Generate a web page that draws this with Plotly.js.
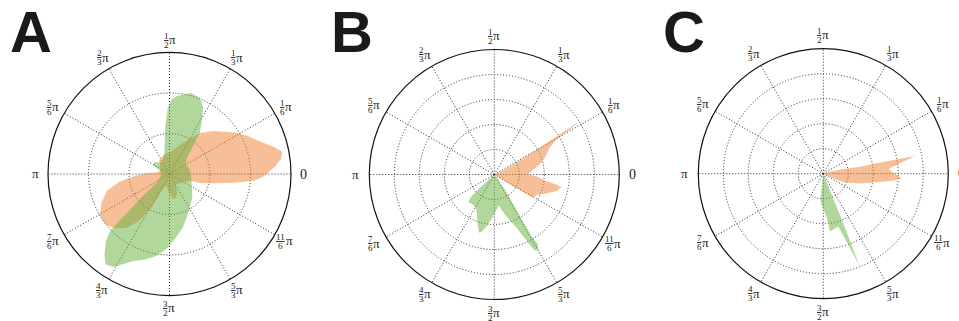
<!DOCTYPE html>
<html>
<head>
<meta charset="utf-8">
<script src="https://cdn.plot.ly/plotly-3.0.1.min.js"></script>
<style>
html,body{margin:0;padding:0;background:#fff;}
#chart{width:959px;height:321px;}
</style>
</head>
<body>
<div id="chart"></div>
<script>
// ---- tick labels (angles in degrees) ----
const tickAngles = [0, 30, 60, 90, 120, 150, 180, 210, 240, 270, 300, 330];
const tickNumerators = ['', '1', '1', '1', '2', '5', '', '7', '4', '3', '5', '11'];
const tickDenominators = ['', '6', '3', '2', '3', '6', '', '6', '3', '2', '3', '6'];
const tickPlain = ['0', '', '', '', '', '', 'π', '', '', '', '', ''];
const panelLetters = ['A', 'B', 'C'];
const radialMax = [3, 5, 5];

// ---- Panel A ----
const aOrangeTheta = [0, 4.5, 7.8, 11, 14.5, 19.4, 26.2, 32.9, 44.3, 53.6, 66.6, 85.6, 110, 127, 140, 160, 172, 178, 183, 189, 195, 203, 211, 218, 224, 231, 237, 242, 246, 255, 268, 278, 285, 292, 300, 320, 335, 341.6, 343.3, 349, 352.9, 355.4, 358];
const aOrangeR = [2.4, 2.63, 2.78, 2.84, 2.67, 2.39, 2.14, 1.89, 1.52, 1.26, 0.84, 0.56, 0.48, 0.42, 0.3, 0.25, 0.3, 0.6, 0.85, 1.26, 1.6, 1.83, 2.0, 2.02, 1.92, 1.72, 1.39, 0.9, 0.41, 0.3, 0.45, 0.62, 0.62, 0.5, 0.3, 0.35, 0.45, 0.53, 0.78, 1.19, 1.68, 2.09, 2.29];
const aGreenTheta = [0, 15, 28, 42, 49, 53.6, 58.5, 63, 68, 75, 80, 85, 88.7, 91.5, 94.7, 103, 120, 135, 142, 152, 160, 180, 200, 215, 219, 222, 223.8, 226.5, 231, 234.7, 239, 247, 254.5, 260.7, 268.7, 276, 284, 295, 315, 340];
const aGreenR = [0.52, 0.5, 0.47, 0.56, 0.83, 1.26, 1.52, 1.83, 2.02, 2.07, 2.0, 1.92, 1.83, 1.63, 1.21, 0.56, 0.35, 0.4, 0.48, 0.45, 0.25, 0.2, 0.25, 0.4, 0.8, 1.3, 2.02, 2.28, 2.55, 2.74, 2.68, 2.34, 2.19, 2.05, 1.82, 1.57, 1.36, 1.08, 0.8, 0.58];

// ---- Panel B ----
const bOrangeTheta = [0, 24, 27.8, 30.4, 32.1, 30.8, 29.4, 25.7, 18.3, 12.4, 7.3, 0, -2.3, -7.3, -9.1, -10.7, -15, -21, -26, -31, -31.8, 0];
const bOrangeR = [0, 0.39, 1.0, 2.11, 4.07, 3.52, 2.85, 2.46, 2.13, 1.86, 1.57, 1.35, 1.69, 2.1, 2.52, 2.73, 2.57, 2.16, 1.88, 1.81, 0.89, 0];
const bGreenTheta = [223, 223, 223.5, 226.6, 234.8, 243, 250.8, 255.4, 257.5, 263, 268.4, 278.3, 284.7, 292.6, 297.8, 300.1, 302, 301.1, 301.9, 305, 305];
const bGreenR = [0, 0.88, 1.26, 1.52, 1.47, 1.57, 2.05, 2.41, 2.36, 2.01, 1.67, 1.25, 1.65, 2.31, 3.42, 3.5, 3.3, 2.88, 1.8, 0.73, 0];

// ---- Panel C ----
const cOrangeTheta = [0, 16.7, 13, 10.8, 11, 10.9, 4.1, -3.4, -5.7, -9.2, -14.8, -23, -24, 0];
const cOrangeR = [0, 0.28, 0.82, 1.49, 2.17, 3.73, 2.61, 3.14, 2.81, 2.16, 1.52, 0.87, 0.29, 0];
const cGreenTheta = [263.8, 263.8, 265.5, 274.4, 276.6, 285.8, 291.5, 291.9, 292.2, 292.2];
const cGreenR = [0, 0.99, 1.19, 1.73, 2.33, 2.2, 3.95, 2.14, 0.7, 0];

// ---- styling / layout ----
const W = 959, H = 321;
const ORANGE = 'rgba(240,128,50,0.5)';
const GREEN = 'rgba(100,175,60,0.5)';
const panels = [
  {cx: 169.5, cy: 174, r: 121.5, off: 12.5, letterX: 31, letterY: 31},
  {cx: 494.3, cy: 174.5, r: 125, off: 13.5, letterX: 351.5, letterY: 31},
  {cx: 823.3, cy: 173.7, r: 125, off: 13.5, letterX: 683.5, letterY: 31}
];
const series = [
  [[aOrangeTheta, aOrangeR, ORANGE], [aGreenTheta, aGreenR, GREEN]],
  [[bOrangeTheta, bOrangeR, ORANGE], [bGreenTheta, bGreenR, GREEN]],
  [[cOrangeTheta, cOrangeR, ORANGE], [cGreenTheta, cGreenR, GREEN]]
];

const data = [];
const layout = {
  width: W, height: H,
  margin: {l: 0, r: 0, t: 0, b: 0, pad: 0},
  paper_bgcolor: '#fff',
  showlegend: false,
  annotations: []
};
const serif = 'Liberation Serif, DejaVu Serif, serif';
const txt = '#1a1a1a';

function note(x, y, text, size, xs, ys, family) {
  layout.annotations.push({
    xref: 'paper', yref: 'paper', x: x, y: y,
    xanchor: 'center', yanchor: 'middle', showarrow: false,
    xshift: xs || 0, yshift: ys || 0,
    text: text,
    font: {family: family || serif, size: size, color: txt}
  });
}

panels.forEach((p, i) => {
  const key = i === 0 ? 'polar' : 'polar' + (i + 1);
  layout[key] = {
    domain: {
      x: [(p.cx - p.r) / W, (p.cx + p.r) / W],
      y: [(H - p.cy - p.r) / H, (H - p.cy + p.r) / H]
    },
    bgcolor: '#fff',
    radialaxis: {
      range: [0, radialMax[i]], tick0: 0, dtick: 1,
      showticklabels: false, ticks: '', showline: false,
      gridcolor: '#2a2a2a', gridwidth: 1, griddash: '1px,2px'
    },
    angularaxis: {
      rotation: 0, direction: 'counterclockwise',
      tick0: 0, dtick: 30, showticklabels: false, ticks: '',
      linecolor: '#111', linewidth: 1.2,
      gridcolor: '#2a2a2a', gridwidth: 1, griddash: '1px,2px'
    }
  };
  series[i].forEach(s => {
    data.push({
      type: 'scatterpolar', subplot: key,
      theta: s[0], r: s[1], mode: 'lines',
      line: {width: 0, color: s[2]},
      fill: 'toself', fillcolor: s[2],
      hoverinfo: 'skip'
    });
  });
  // panel letter
  note(p.letterX / W, (H - p.letterY) / H, '<b>' + panelLetters[i] + '</b>', 58, 0, 0,
       'Liberation Sans, Arial, sans-serif');
  // angular tick labels
  tickAngles.forEach((a, k) => {
    const rad = a * Math.PI / 180;
    const px = p.cx + (p.r + p.off) * Math.cos(rad);
    const py = p.cy - (p.r + p.off) * Math.sin(rad);
    const x = px / W, y = (H - py) / H;
    if (tickPlain[k]) {
      note(x, y, tickPlain[k], tickPlain[k] === '0' ? 14 : 13, 0, 0);
    } else {
      const wide = tickNumerators[k].length > 1;
      const fx = wide ? -5 : -3.5;
      note(x, y, '<u>' + tickNumerators[k] + '</u>', 9, fx, 4.5);
      note(x, y, tickDenominators[k], 9, fx, -4.5);
      note(x, y, 'π', 13, wide ? 3.5 : 2.5, 0.5);
    }
  });
});

Plotly.newPlot('chart', data, layout, {staticPlot: true, displayModeBar: false});
</script>
</body>
</html>
